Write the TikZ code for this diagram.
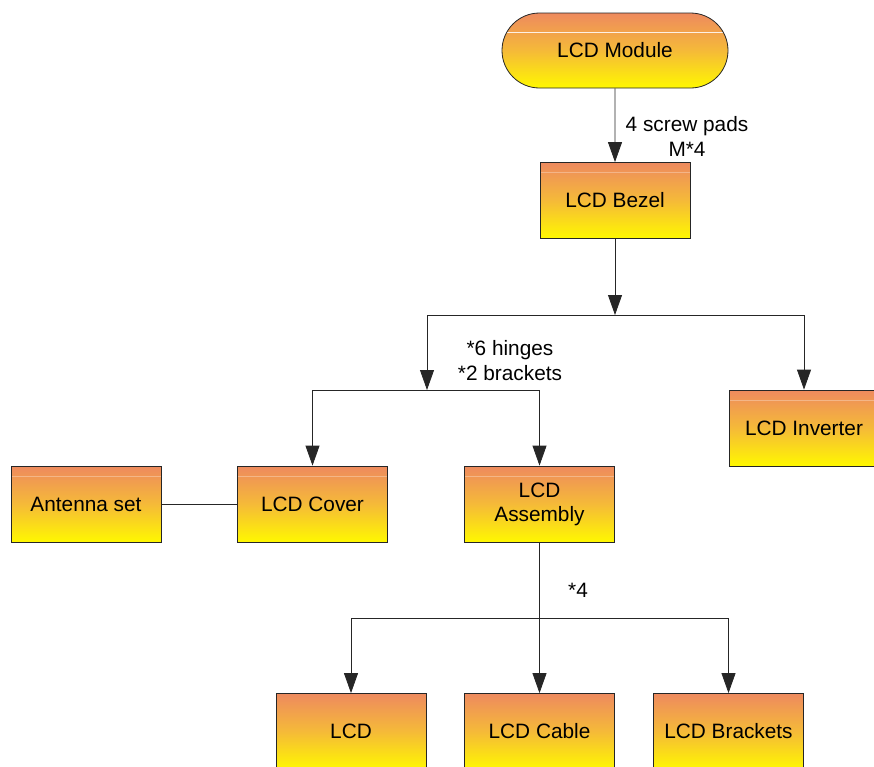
\documentclass[tikz,border=0pt]{standalone}
\usepackage{fontspec}
\setmainfont{Liberation Sans}
\usetikzlibrary{arrows.meta,shapes.misc}
\definecolor{boxtop}{HTML}{EE8A5E}
\definecolor{boxbot}{HTML}{FFF800}
\definecolor{boxmid}{HTML}{F5BA38}
\tikzset{
  unit/.style={x=1pt,y=-1pt},
  boxbase/.style={draw=black!85, line width=0.8pt, top color=boxtop, bottom color=boxbot, middle color=boxmid,
    font=\fontsize{20.8}{24}\selectfont, align=center, inner sep=0pt},
  box/.style={boxbase, rectangle, minimum width=150pt, minimum height=76pt,
    path picture={\draw[white,opacity=.3,line width=0.8pt] ([yshift=-10pt]path picture bounding box.north west) -- ([yshift=-10pt]path picture bounding box.north east);}},
  plainbox/.style={boxbase, rectangle, minimum width=150pt, minimum height=76pt},
  pill/.style={boxbase, rounded rectangle, minimum width=226pt, minimum height=75pt,
    path picture={\draw[white,opacity=.85,line width=0.8pt] ([yshift=-19pt]path picture bounding box.north west) -- ([yshift=-19pt]path picture bounding box.north east);}},
  conn/.style={line width=0.8pt, black!85},
  arr/.style={conn, -{Triangle[length=20pt,width=14pt]}},
  lbl/.style={font=\fontsize{20.8}{25}\selectfont, align=center, inner sep=0pt}
}
\begin{document}
\begin{tikzpicture}[unit]
\useasboundingbox (0,0) rectangle (874,766);
\node[pill] (mod) at (615,50.5) {LCD Module};
\node[box] (bez) at (615,200.5) {LCD Bezel};
\node[box] (inv) at (804,428) {LCD Inverter};
\node[box] (ant) at (86,504) {Antenna set};
\node[box] (cov) at (312.5,504) {LCD Cover};
\node[box] (asm) at (539.5,504) {LCD\\Assembly};
\node[plainbox] (lcd) at (351,731.5) {LCD};
\node[plainbox] (cab) at (539.5,731.5) {LCD Cable};
\node[plainbox] (brk) at (728.5,731.5) {LCD Brackets};
% connectors
\draw[arr] (mod) -- (bez);
\node[lbl] (l1) at (687,136) {4 screw pads\\M*4};
\coordinate (j1) at (615,315);
\coordinate (j1l) at (427,315);
\coordinate (j1r) at (804,315);
\draw[arr] (bez) -- (j1);
\draw[conn] (j1l) -- (j1r);
\draw[arr] (j1r) -- (inv);
\coordinate (j2) at (427,390);
\coordinate (j2l) at (312.5,390);
\coordinate (j2r) at (539.5,390);
\draw[arr] (j1l) -- (j2);
\node[lbl] (l2) at (510,360.5) {*6 hinges\\*2 brackets};
\draw[conn] (j2l) -- (j2r);
\draw[arr] (j2l) -- (cov);
\draw[arr] (j2r) -- (asm);
\draw[conn] (ant) -- (cov);
\coordinate (j3l) at (351,618);
\coordinate (j3r) at (728.5,618);
\draw[arr] (asm) -- (cab);
\draw[conn] (j3l) -- (j3r);
\draw[arr] (j3l) -- (lcd);
\draw[arr] (j3r) -- (brk);
\node[lbl] (l3) at (578,590) {*4};
\end{tikzpicture}
\end{document}
